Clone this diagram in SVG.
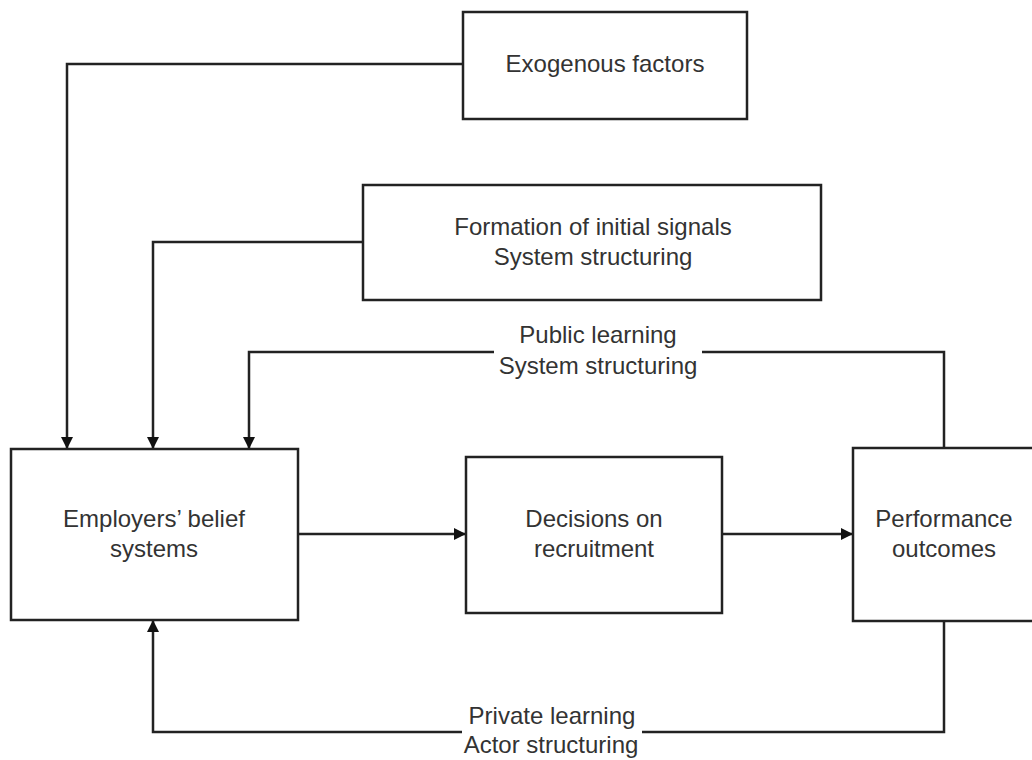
<svg xmlns="http://www.w3.org/2000/svg" width="1032" height="760" viewBox="0 0 1032 760">
<style>
.box{fill:#fff;stroke:#222;stroke-width:2.5}
.ln{fill:none;stroke:#222;stroke-width:2.5}
text{font-family:"Liberation Sans",Arial,sans-serif;font-size:24px;fill:#333;text-anchor:middle}
</style>
<defs>
<marker id="ah" viewBox="0 0 12 12" refX="12" refY="6" markerWidth="12" markerHeight="12" markerUnits="userSpaceOnUse" orient="auto">
<path d="M0,0 L12,6 L0,12 Z" fill="#111"/>
</marker>
</defs>
<rect width="1032" height="760" fill="#fff"/>
<g id="connectors">
<path class="ln" d="M463,64 H67 V449" marker-end="url(#ah)"/>
<path class="ln" d="M363,242 H153 V449" marker-end="url(#ah)"/>
<path class="ln" d="M494,352 H249 V449" marker-end="url(#ah)"/>
<path class="ln" d="M702,352 H944 V448"/>
<path class="ln" d="M298,534 H466" marker-end="url(#ah)"/>
<path class="ln" d="M722,534 H853" marker-end="url(#ah)"/>
<path class="ln" d="M944,621 V732 H642"/>
<path class="ln" d="M462,732 H153 V620" marker-end="url(#ah)"/>
<text x="598" y="343">Public learning</text>
<text x="598" y="374">System structuring</text>
<text x="552" y="724">Private learning</text>
<text x="551" y="753">Actor structuring</text>
</g>
<g id="exogenous">
<rect class="box" x="463" y="12" width="284" height="107"/>
<text x="605" y="72">Exogenous factors</text>
</g>
<g id="formation">
<rect class="box" x="363" y="185" width="458" height="115"/>
<text x="593" y="235">Formation of initial signals</text>
<text x="593" y="265">System structuring</text>
</g>
<g id="employers">
<rect class="box" x="11" y="449" width="287" height="171"/>
<text x="154" y="527">Employers’ belief</text>
<text x="154" y="557">systems</text>
</g>
<g id="decisions">
<rect class="box" x="466" y="457" width="256" height="156"/>
<text x="594" y="527">Decisions on</text>
<text x="594" y="557">recruitment</text>
</g>
<g id="performance">
<rect class="box" x="853" y="448" width="200" height="173"/>
<text x="944" y="527">Performance</text>
<text x="944" y="557">outcomes</text>
</g>
</svg>
